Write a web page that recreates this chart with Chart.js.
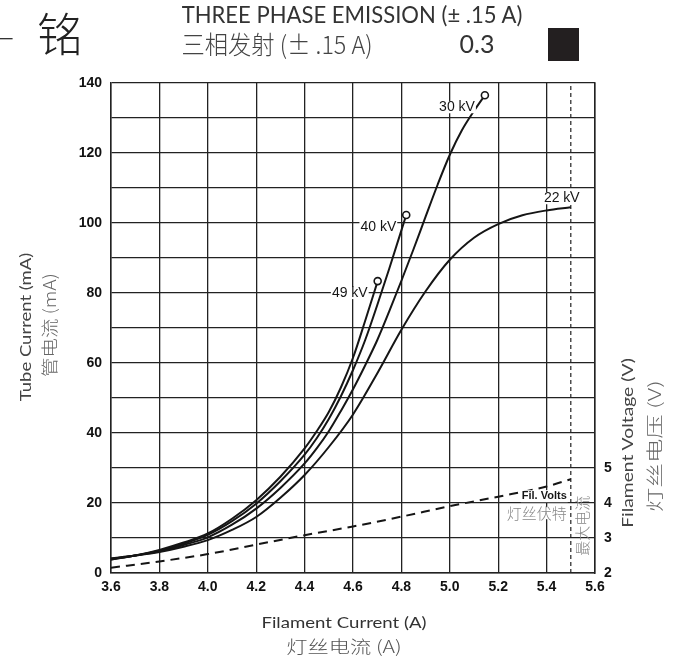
<!DOCTYPE html>
<html><head><meta charset="utf-8">
<script src="https://cdn.jsdelivr.net/npm/chart.js@4.4.1/dist/chart.umd.min.js"></script>
<style>
html,body{margin:0;padding:0;background:#fff;overflow:hidden}
#wrap{position:relative;width:676px;height:657px;background:#fff}
#c{position:absolute;left:0;top:0}
.t{position:absolute;white-space:nowrap;line-height:1;display:inline-block;font-family:Lato,"Noto Sans CJK SC",sans-serif}
.cjk{font-family:"Noto Sans CJK SC",sans-serif;font-weight:300}
</style></head><body>
<div id="wrap">
<canvas id="c" width="676" height="657"></canvas>
<div class="t cjk" data-cx="6" data-cy="34" style="font-size:30px;color:#333">–</div>
<div class="t cjk" data-cx="60" data-cy="31" style="font-size:46px;color:#222">铭</div>
<div class="t" data-cx="352" data-cy="14" data-w="341" style="font-size:24px;color:#333">THREE PHASE EMISSION (± .15 A)</div>
<div class="t cjk" data-cx="277" data-cy="43" data-w="191" style="font-size:25px;color:#444">三相发射 (± .15 A)</div>
<div class="t" data-cx="477" data-cy="43" data-w="35" style="font-size:25px;color:#333">0.3</div>
<div style="position:absolute;left:548px;top:28px;width:31px;height:33px;background:#231f20"></div>
<div class="t" data-cx="344" data-cy="622" data-w="165" style="font-size:16px;color:#333">Filament Current (A)</div>
<div class="t cjk" data-cx="344" data-cy="645" data-w="115" style="font-size:17px;color:#555">灯丝电流 (A)</div>
<div class="t" data-cx="25" data-cy="327" data-w="149" data-r="-90" style="font-size:16px;color:#444">Tube Current (mA)</div>
<div class="t cjk" data-cx="48" data-cy="325" data-w="104" data-r="-90" style="font-size:17px;color:#666">管电流 (mA)</div>
<div class="t" data-cx="627" data-cy="443" data-w="170" data-r="-90" style="font-size:16px;color:#444">Filament Voltage (V)</div>
<div class="t cjk" data-cx="653" data-cy="446" data-w="132" data-r="-90" style="font-size:17px;color:#666">灯丝电压 (V)</div>
</div>
<script>
// ---- data ----
const current49 = [3.6, 3.7, 3.8, 3.9, 4.0, 4.1, 4.2, 4.3, 4.4, 4.45, 4.5, 4.55, 4.6, 4.65, 4.702];
const tube49    = [3.8, 5.0, 6.6, 8.7, 11.3, 15.5, 20.8, 27.5, 35.6, 40.5, 46.0, 53.0, 61.5, 72.0, 83.4];
const current40 = [3.6, 3.7, 3.8, 3.9, 4.0, 4.1, 4.2, 4.3, 4.4, 4.45, 4.5, 4.55, 4.6, 4.65, 4.7, 4.75, 4.82];
const tube40    = [3.9, 5.0, 6.4, 8.4, 10.9, 14.8, 19.8, 26.2, 33.8, 38.5, 44.0, 50.5, 58.0, 66.5, 76.5, 87.0, 102.3];
const current30 = [3.6, 3.7, 3.8, 3.9, 4.0, 4.1, 4.2, 4.3, 4.4, 4.45, 4.5, 4.55, 4.6, 4.65, 4.7, 4.75, 4.8, 4.85, 4.9, 4.95, 5.0, 5.05, 5.1, 5.145];
const tube30    = [4.0, 5.0, 6.2, 8.0, 10.2, 13.8, 18.4, 24.3, 31.3, 35.6, 40.5, 46.3, 52.5, 59.3, 66.5, 74.8, 83.5, 92.5, 101.8, 111.0, 119.5, 126.5, 132.0, 136.5];
const current22 = [3.6, 3.7, 3.8, 3.9, 4.0, 4.1, 4.2, 4.3, 4.4, 4.5, 4.6, 4.7, 4.8, 4.9, 5.0, 5.1, 5.2, 5.3, 5.4, 5.5];
const tube22    = [4.2, 5.0, 6.0, 7.5, 9.4, 12.3, 16.0, 21.5, 28.0, 36.0, 45.3, 57.0, 69.5, 80.5, 89.5, 95.8, 99.7, 102.2, 103.6, 104.5];
const filCurrent = [3.6, 3.8, 4.0, 4.2, 4.4, 4.6, 4.8, 5.0, 5.2, 5.4, 5.5];
const filVolts   = [2.15, 2.33, 2.54, 2.81, 3.08, 3.33, 3.61, 3.91, 4.18, 4.47, 4.68];
const maxCurrent = 5.5;
const seriesNames = ['49 kV', '40 kV', '30 kV', '22 kV'];
const xTicks = [3.6, 3.8, 4.0, 4.2, 4.4, 4.6, 4.8, 5.0, 5.2, 5.4, 5.6];
const yTicks = [0, 20, 40, 60, 80, 100, 120, 140];
const vTicks = [2, 3, 4, 5];

const pts = (xs, ys) => xs.map((x, i) => ({x, y: ys[i]}));
const endCircle = (n) => (ctx) => ctx.dataIndex === n - 1 ? 3.5 : 0;

function curve(label, xs, ys, circle) {
  return {
    label, data: pts(xs, ys), yAxisID: 'y',
    borderColor: '#151515', borderWidth: 2, fill: false,
    cubicInterpolationMode: 'monotone',
    pointRadius: circle ? endCircle(xs.length) : 0,
    pointHoverRadius: 0,
    pointBackgroundColor: '#fff', pointBorderColor: '#151515', pointBorderWidth: 1.6
  };
}

const labelPlugin = {
  id: 'labels',
  afterDatasetsDraw(chart) {
    const {ctx, scales} = chart;
    const X = v => scales.x.getPixelForValue(v), Y = v => scales.y.getPixelForValue(v), V = v => scales.y2.getPixelForValue(v);
    function txt(s, x, y, align, font, color, bg) {
      ctx.save();
      ctx.font = font; ctx.textAlign = align; ctx.textBaseline = 'middle';
      const w = ctx.measureText(s).width;
      if (bg) {
        let x0 = align === 'right' ? x - w : align === 'center' ? x - w / 2 : x;
        ctx.fillStyle = '#fff';
        ctx.fillRect(x0 - 1, y - 6, w + 2, 12);
      }
      ctx.fillStyle = color; ctx.fillText(s, x, y);
      ctx.restore();
    }
    const f = '14px "Liberation Sans", Arial, sans-serif';
    const ends = [[current49, tube49], [current40, tube40], [current30, tube30]];
    ends.forEach(([xs, ys], i) => {
      const ex = X(xs[xs.length - 1]), ey = Y(ys[ys.length - 1]);
      txt(seriesNames[i], ex - 10, ey + 12, 'right', f, '#151515', true);
    });
    const ex22 = X(current22[current22.length - 1]), ey22 = Y(tube22[tube22.length - 1]);
    txt(seriesNames[3], ex22 - 9, ey22 - 9, 'center', f, '#151515', true);
    const fx = X(maxCurrent), fy = V(filVolts[filVolts.length - 1]);
    txt('Fil. Volts', fx - 4, fy + 17, 'right', 'bold 11px "Liberation Sans", Arial, sans-serif', '#151515', true);
    txt('灯丝伏特', fx - 4, fy + 34, 'right', '300 15px "Noto Sans CJK SC", sans-serif', '#888', true);
    ctx.save();
    ctx.translate(fx + 11, Y(13.5));
    ctx.rotate(-Math.PI / 2);
    ctx.font = '300 15px "Noto Sans CJK SC", sans-serif';
    ctx.textAlign = 'center'; ctx.textBaseline = 'middle'; ctx.fillStyle = '#888';
    ctx.fillText('最大电流', 0, 0);
    ctx.restore();
  }
};

Chart.defaults.font.family = '"Liberation Sans", Arial, sans-serif';
Chart.defaults.font.size = 14;
Chart.defaults.color = '#111';

new Chart(document.getElementById('c'), {
  type: 'line',
  data: {
    datasets: [
      curve(seriesNames[0], current49, tube49, true),
      curve(seriesNames[1], current40, tube40, true),
      curve(seriesNames[2], current30, tube30, true),
      curve(seriesNames[3], current22, tube22, false),
      {
        label: 'Fil. Volts', data: pts(filCurrent, filVolts), yAxisID: 'y2',
        borderColor: '#151515', borderWidth: 2, borderDash: [9, 6], pointRadius: 0,
        cubicInterpolationMode: 'monotone', fill: false
      },
      {
        label: 'max', data: [{x: maxCurrent, y: 0}, {x: maxCurrent, y: 140}], yAxisID: 'y',
        borderColor: '#222', borderWidth: 1.2, borderDash: [4, 3], pointRadius: 0, fill: false
      }
    ]
  },
  options: {
    responsive: false, animation: false, devicePixelRatio: 1,
    layout: {padding: {top: 83, left: 0, right: 0, bottom: 0}},
    plugins: {legend: {display: false}, tooltip: {enabled: false}},
    scales: {
      x: {
        type: 'linear', min: 3.6, max: 5.6,
        afterFit: s => { s.height = 84; },
        afterBuildTicks: s => { s.ticks = xTicks.map(v => ({value: v})); },
        ticks: {padding: 6, callback: v => v.toFixed(1), font: {size: 14, weight: 'bold'}},
        grid: {color: '#222', lineWidth: 1.3, drawTicks: false},
        border: {color: '#222', width: 1.5}
      },
      y: {
        type: 'linear', min: 0, max: 140,
        afterFit: s => { s.width = 111; },
        ticks: {stepSize: 10, padding: 9, callback: v => yTicks.includes(v) ? String(v) : '', font: {size: 14, weight: 'bold'}},
        grid: {color: '#222', lineWidth: 1.3, drawTicks: false},
        border: {color: '#222', width: 1.5}
      },
      y2: {
        type: 'linear', position: 'right', min: 2, max: 16,
        afterFit: s => { s.width = 81; },
        ticks: {stepSize: 1, padding: 9, callback: v => vTicks.includes(v) ? String(v) : '', font: {size: 14, weight: 'bold'}},
        grid: {display: false, drawTicks: false},
        border: {display: true, color: '#222', width: 1.5}
      }
    }
  },
  plugins: [labelPlugin]
});

document.querySelectorAll('.t').forEach(el => {
  const w = el.offsetWidth;
  const k = el.dataset.w ? (+el.dataset.w / w) : 1;
  const r = el.dataset.r ? +el.dataset.r : 0;
  el.style.left = el.dataset.cx + 'px';
  el.style.top = el.dataset.cy + 'px';
  el.style.transform = `translate(-50%,-50%) rotate(${r}deg) scaleX(${k})`;
});
</script>
</body></html>
